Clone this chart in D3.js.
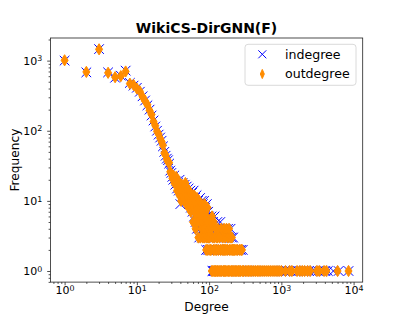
<!DOCTYPE html>
<html>
<head>
<meta charset="utf-8">
<script src="https://cdn.jsdelivr.net/npm/d3@7"></script>
<style>
  body { margin: 0; background: #fff; }
  svg text { font-family: "DejaVu Sans", sans-serif; fill: #000; }
</style>
</head>
<body>
<div id="chart"></div>
<script>
// frequency of degree 1..100 (index = degree - 1)
var inHeadFreq = [
  1000, 680, 1460, 680, 570, 610, 720, 480, 440, 410,
  360, 310, 270, 230, 200, 165, 140, 115, 100, 88,
  80, 72, 60, 50, 44, 40, 38, 34, 27, 25,
  22, 20, 23, 17, 19, 15, 18, 14, 20, 9,
  16, 13, 18, 12, 15, 17, 11, 14, 16, 10,
  13, 15, 9, 12, 14, 8, 11, 13, 7, 10,
  14, 6, 9, 11, 5, 8, 12, 4, 7, 10,
  5, 9, 3, 6, 11, 4, 8, 5, 10, 3,
  7, 9, 4, 6, 10, 3, 5, 8, 4, 7,
  2, 6, 9, 4, 5, 2, 7, 4, 6, 3
];
var outHeadFreq = [
  1010, 690, 1450, 670, 580, 600, 700, 470, 450, 400,
  365, 305, 265, 235, 195, 170, 135, 118, 98, 90,
  78, 70, 62, 48, 45, 39, 36, 35, 26, 24,
  21, 23, 18, 20, 22, 14, 17, 19, 12, 15,
  10, 17, 14, 11, 16, 13, 18, 9, 12, 15,
  11, 8, 14, 10, 13, 7, 12, 9, 11, 5,
  8, 12, 7, 10, 4, 9, 6, 11, 5, 8,
  3, 7, 10, 5, 8, 3, 6, 9, 4, 7,
  5, 3, 8, 6, 4, 9, 3, 5, 7, 4,
  2, 6, 3, 5, 8, 2, 4, 3, 5, 4
];
// [degree, frequency] beyond degree 100
var inTail = [
  [101,2],[102,5],[104,4],[105,2],[108,6],[109,2],[110,3],[111,1],[112,2],[113,5],
  [114,1],[116,4],[117,1],[118,2],[119,6],[120,1],[122,3],[123,1],[124,2],[126,4],
  [127,1],[128,2],[130,5],[131,1],[132,2],[134,3],[136,1],[138,4],[140,2],[141,1],
  [143,5],[145,1],[146,2],[148,3],[150,1],[151,2],[153,4],[155,1],[156,2],[158,4],
  [160,1],[162,2],[164,3],[166,1],[168,2],[170,4],[172,1],[174,2],[176,3],[178,1],
  [180,2],[183,4],[185,1],[188,2],[190,3],[192,1],[195,2],[198,4],[200,1],[203,2],
  [206,3],[208,1],[211,2],[215,3],[217,1],[219,2],[226,1],[228,2],[235,1],[238,2],
  [245,1],[250,2],[256,1],[262,2],[268,1],[276,2],[280,1],[292,2],[295,1],[310,1],
  [325,1],[342,1],[360,1],[380,1],[400,1],[425,1],[450,1],[475,1],[505,1],[535,1],
  [570,1],[610,1],[650,1],[690,1],[740,1],[790,1],[845,1],[900,1],[960,1],[1030,1],
  [1100,1],[1180,1],[1260,1],[1350,1],[1470,1],[1580,1],[1720,1],[1900,1],[2050,1],
  [2200,1],[2400,1],[2950,1],[3200,1],[3450,1],[3700,1],[4050,1],[4400,1],[5250,1],
  [6200,1],[8500,1]
];
var outTail = [
  [101,3],[103,2],[104,5],[106,2],[107,4],[109,1],[110,6],[112,3],[113,1],[115,2],
  [116,5],[118,1],[119,3],[121,2],[122,1],[124,4],[125,1],[127,2],[129,3],[131,1],
  [133,4],[135,2],[137,1],[139,3],[142,1],[144,2],[147,4],[149,1],[152,2],[154,3],
  [157,1],[159,2],[161,4],[163,1],[165,2],[167,3],[169,1],[171,2],[174,4],[177,1],
  [179,2],[182,3],[186,1],[189,4],[191,2],[194,1],[197,3],[201,2],[204,1],[207,3],
  [210,2],[213,1],[218,2],[222,1],[225,2],[231,1],[236,2],[242,1],[248,2],[253,1],
  [260,1],[265,2],[272,1],[278,2],[285,2],[288,1],[300,1],[318,1],[335,1],[352,1],
  [370,1],[390,1],[415,1],[440,1],[465,1],[490,1],[520,1],[555,1],[590,1],[630,1],
  [670,1],[715,1],[765,1],[815,1],[870,1],[930,1],[1000,1],[1140,1],[1300,1],[1400,1],
  [1650,1],[1800,1],[1950,1],[2100,1],[2300,1],[2500,1],[3100,1],[3350,1],[3900,1],
  [4200,1],[6000,1],[8500,1]
];
var xTicks = [1, 10, 100, 1000, 10000];
var yTicks = [1, 10, 100, 1000];

function toPoints(head, tail) {
  var pts = head.map(function(f, i) { return {deg: i + 1, freq: f}; });
  tail.forEach(function(p) { pts.push({deg: p[0], freq: p[1]}); });
  return pts;
}
var inPts = toPoints(inHeadFreq, inTail);
var outPts = toPoints(outHeadFreq, outTail);

var W = 403, H = 317;
var pL = 50.4, pR = 362.7, pT = 38, pB = 282.1;

var svg = d3.select("#chart").append("svg")
  .attr("width", W).attr("height", H);

// log extents with 5% margin like matplotlib autoscale
function logDomain(vals) {
  var lo = Math.log10(d3.min(vals)), hi = Math.log10(d3.max(vals));
  var m = (hi - lo) * 0.05;
  return [Math.pow(10, lo - m), Math.pow(10, hi + m)];
}
var all = inPts.concat(outPts);
var x = d3.scaleLog().domain(logDomain(all.map(function(d) { return d.deg; }))).range([pL, pR]);
var y = d3.scaleLog().domain(logDomain(all.map(function(d) { return d.freq; }))).range([pB, pT]);

function minorTicks(scale) {
  var d = scale.domain(), out = [];
  for (var e = -1; e <= 5; e++) {
    for (var k = 2; k <= 9; k++) {
      var v = k * Math.pow(10, e);
      if (v > d[0] && v < d[1]) out.push(v);
    }
  }
  return out;
}

function powLabel(sel) {
  sel.each(function(d) {
    var t = d3.select(this).text("");
    t.append("tspan").text("10");
    t.append("tspan").attr("dy", "-0.42em").attr("font-size", "0.72em")
      .text(Math.round(Math.log10(d)));
  });
}

// minor ticks
svg.append("g").attr("transform", "translate(0," + pB + ")")
  .call(d3.axisBottom(x).tickValues(minorTicks(x)).tickSize(1.8).tickFormat(""))
  .call(function(g) { g.select(".domain").remove(); });
svg.append("g").attr("transform", "translate(" + pL + ",0)")
  .call(d3.axisLeft(y).tickValues(minorTicks(y)).tickSize(1.8).tickFormat(""))
  .call(function(g) { g.select(".domain").remove(); });

var xAxis = svg.append("g").attr("transform", "translate(0," + pB + ")")
  .call(d3.axisBottom(x).tickValues(xTicks).tickSize(3.2).tickPadding(2.5));
xAxis.select(".domain").remove();
xAxis.selectAll("text").attr("font-size", 11).attr("dy", "0.55em").call(powLabel);

var yAxis = svg.append("g").attr("transform", "translate(" + pL + ",0)")
  .call(d3.axisLeft(y).tickValues(yTicks).tickSize(3.2).tickPadding(5));
yAxis.select(".domain").remove();
yAxis.selectAll("text").attr("font-size", 11).call(powLabel);

svg.selectAll(".tick line").attr("stroke", "#222").attr("stroke-width", 0.8);

var xPath = "M-4.8,-4.8L4.8,4.8M-4.8,4.8L4.8,-4.8";
var dPath = "M0,-5.6L3.5,0L0,5.6L-3.5,0Z";

var plot = svg.append("g");
plot.selectAll(".in")
  .data(inPts)
  .enter().append("path")
  .attr("class", "in")
  .attr("d", xPath)
  .attr("transform", function(d) { return "translate(" + x(d.deg) + "," + y(d.freq) + ")"; })
  .attr("fill", "none")
  .attr("stroke", "#0000ff")
  .attr("stroke-width", 1);

plot.selectAll(".out")
  .data(outPts)
  .enter().append("path")
  .attr("class", "out")
  .attr("d", dPath)
  .attr("transform", function(d) { return "translate(" + x(d.deg) + "," + y(d.freq) + ")"; })
  .attr("fill", "#ff8c00")
  .attr("stroke", "#ff8c00")
  .attr("stroke-width", 1);

// frame
svg.append("rect")
  .attr("x", pL).attr("y", pT)
  .attr("width", pR - pL).attr("height", pB - pT)
  .attr("fill", "none").attr("stroke", "#222").attr("stroke-width", 0.8);

// title and labels
svg.append("text")
  .attr("x", (pL + pR) / 2).attr("y", 33.3)
  .attr("text-anchor", "middle")
  .attr("font-size", 14).attr("font-weight", "bold")
  .text("WikiCS-DirGNN(F)");

svg.append("text")
  .attr("x", (pL + pR) / 2).attr("y", 311)
  .attr("text-anchor", "middle")
  .attr("font-size", 12.2)
  .text("Degree");

svg.append("text")
  .attr("transform", "translate(18.5," + (pT + pB) / 2 + ") rotate(-90)")
  .attr("text-anchor", "middle")
  .attr("font-size", 12.2)
  .text("Frequency");

// legend
var legend = svg.append("g");
legend.append("rect")
  .attr("x", 245).attr("y", 44.3)
  .attr("width", 111).attr("height", 41)
  .attr("rx", 3)
  .attr("fill", "#fff").attr("fill-opacity", 0.8)
  .attr("stroke", "#d0d0d0").attr("stroke-width", 0.8);

legend.append("path")
  .attr("d", "M-4,-4L4,4M-4,4L4,-4")
  .attr("transform", "translate(262.3,54.3)")
  .attr("fill", "none").attr("stroke", "#0000ff").attr("stroke-width", 1);
legend.append("path")
  .attr("d", "M0,-4.6L2,0L0,4.6L-2,0Z")
  .attr("transform", "translate(262.3,74)")
  .attr("fill", "#ff8c00").attr("stroke", "#ff8c00").attr("stroke-width", 1);

legend.append("text").attr("x", 285).attr("y", 58.7)
  .attr("font-size", 12.6).text("indegree");
legend.append("text").attr("x", 285).attr("y", 78.4)
  .attr("font-size", 12.6).text("outdegree");
</script>
</body>
</html>
